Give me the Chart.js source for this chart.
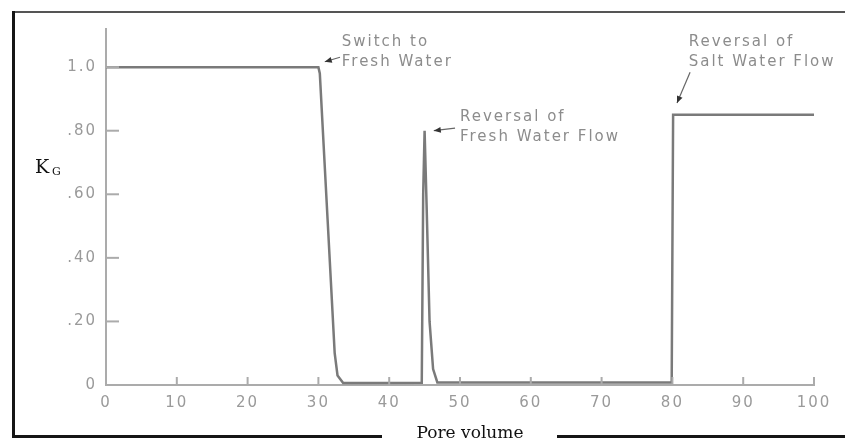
<!DOCTYPE html>
<html>
<head>
<meta charset="utf-8">
<script src="https://cdn.jsdelivr.net/npm/chart.js@4.4.1/dist/chart.umd.min.js"></script>
<style>
html, body { margin: 0; padding: 0; background: #fff; }
canvas { display: block; }
</style>
</head>
<body>
<canvas id="kgChart" width="845" height="439"></canvas>
<script>
// K_G against pore volume
const poreVolume = [0, 30, 30.2, 31.3, 32.3, 32.7, 33.5, 44.6, 44.8, 45.0, 45.3, 45.7, 46.2, 46.8, 79.9, 80.1, 100];
const kG = [1.0, 1.0, 0.98, 0.52, 0.1, 0.03, 0.006, 0.007, 0.6, 0.8, 0.55, 0.2, 0.05, 0.008, 0.008, 0.85, 0.85];

const xTicks = [0, 10, 20, 30, 40, 50, 60, 70, 80, 90, 100];
const yTicks = [0, 0.2, 0.4, 0.6, 0.8, 1.0];
const yTickLabels = ['0', '.20', '.40', '.60', '.80', '1.0'];

// annotation texts and the point (pore volume, K_G) they sit at
const noteLines = [['Switch to', 'Fresh Water'], ['Reversal of', 'Fresh Water Flow'], ['Reversal of', 'Salt Water Flow']];
const noteAt = [[33.3, 1.079], [50.0, 0.843], [82.3, 1.079]];
const arrowTail = [[33.05, 1.031], [49.3, 0.808], [82.5, 0.984]];
const arrowHead = [[30.9, 1.017], [46.3, 0.80], [80.65, 0.887]];

const lineGray = '#7a7a7a';
const axisGray = '#ababab';
const textGray = '#9a9a9a';

function arrow(ctx, x1, y1, x2, y2) {
    ctx.beginPath();
    ctx.moveTo(x1, y1);
    ctx.lineTo(x2, y2);
    ctx.stroke();
    const a = Math.atan2(y2 - y1, x2 - x1);
    ctx.beginPath();
    ctx.moveTo(x2, y2);
    ctx.lineTo(x2 - 7 * Math.cos(a) + 3 * Math.sin(a), y2 - 7 * Math.sin(a) - 3 * Math.cos(a));
    ctx.lineTo(x2 - 7 * Math.cos(a) - 3 * Math.sin(a), y2 - 7 * Math.sin(a) + 3 * Math.cos(a));
    ctx.closePath();
    ctx.fill();
}

const decorations = {
    id: 'decorations',
    beforeDraw(chart) {
        chart.ctx.letterSpacing = '2px';
    },
    afterDraw(chart) {
        const ctx = chart.ctx;
        const xs = chart.scales.x, ys = chart.scales.y;
        ctx.save();

        // inward tick marks
        ctx.strokeStyle = axisGray;
        ctx.lineWidth = 2;
        yTicks.forEach(v => {
            if (v === 0) return;
            const y = ys.getPixelForValue(v);
            ctx.beginPath();
            ctx.moveTo(xs.left, y);
            ctx.lineTo(xs.left + 13, y);
            ctx.stroke();
        });
        xTicks.forEach(v => {
            if (v === 0) return;
            const x = xs.getPixelForValue(v);
            ctx.beginPath();
            ctx.moveTo(x, ys.bottom);
            ctx.lineTo(x, ys.bottom - 8);
            ctx.stroke();
        });

        // annotations
        ctx.letterSpacing = '2px';
        ctx.font = '15px "DejaVu Sans"';
        ctx.fillStyle = '#8c8c8c';
        ctx.textBaseline = 'middle';
        ctx.textAlign = 'left';
        noteLines.forEach((lines, i) => {
            const x = xs.getPixelForValue(noteAt[i][0]);
            const y = ys.getPixelForValue(noteAt[i][1]);
            lines.forEach((t, j) => ctx.fillText(t, x, y + j * 20));
        });
        ctx.strokeStyle = '#666';
        ctx.fillStyle = '#333';
        ctx.lineWidth = 1.2;
        arrowTail.forEach((t, i) => {
            arrow(ctx, xs.getPixelForValue(t[0]), ys.getPixelForValue(t[1]),
                xs.getPixelForValue(arrowHead[i][0]), ys.getPixelForValue(arrowHead[i][1]));
        });

        // axis titles
        ctx.letterSpacing = '0px';
        ctx.fillStyle = '#111';
        ctx.textBaseline = 'alphabetic';
        ctx.font = '19px "DejaVu Serif"';
        ctx.fillText('K', 35, 173);
        ctx.font = '11px "DejaVu Serif"';
        ctx.fillText('G', 52, 175);
        ctx.font = '17px "DejaVu Serif"';
        ctx.textAlign = 'center';
        ctx.fillText('Pore volume', 470, 438);

        // frame round the figure
        ctx.strokeStyle = '#555';
        ctx.lineWidth = 2;
        ctx.beginPath();
        ctx.moveTo(13, 12);
        ctx.lineTo(845, 12);
        ctx.stroke();
        ctx.strokeStyle = '#151515';
        ctx.lineWidth = 3;
        ctx.beginPath();
        ctx.moveTo(13.5, 11);
        ctx.lineTo(13.5, 437);
        ctx.moveTo(12, 436.5);
        ctx.lineTo(382, 436.5);
        ctx.moveTo(557, 436.5);
        ctx.lineTo(845, 436.5);
        ctx.stroke();
        ctx.restore();
    }
};

new Chart(document.getElementById('kgChart'), {
    type: 'scatter',
    data: {
        datasets: [{
            data: poreVolume.map((x, i) => ({ x: x, y: kG[i] })),
            showLine: true,
            borderColor: lineGray,
            borderWidth: 2.5,
            pointRadius: 0,
            tension: 0
        }]
    },
    options: {
        responsive: false,
        animation: false,
        layout: { padding: { top: 29, right: 31, left: 0, bottom: 0 } },
        plugins: { legend: { display: false }, tooltip: { enabled: false } },
        scales: {
            x: {
                type: 'linear',
                min: 0,
                max: 100,
                grid: { drawOnChartArea: false, drawTicks: false },
                border: { display: true, color: axisGray, width: 2 },
                afterBuildTicks: s => { s.ticks = xTicks.map(v => ({ value: v })); },
                afterFit: s => { s.height = 54; },
                ticks: {
                    padding: 9,
                    color: textGray,
                    font: { family: 'DejaVu Sans', size: 15 },
                    maxRotation: 0,
                    callback: v => String(v)
                }
            },
            y: {
                type: 'linear',
                min: 0,
                max: 1.12,
                grid: { drawOnChartArea: false, drawTicks: false },
                border: { display: true, color: axisGray, width: 2 },
                afterBuildTicks: s => { s.ticks = yTicks.map(v => ({ value: v })); },
                afterFit: s => { s.width = 106; },
                ticks: {
                    padding: 9,
                    color: textGray,
                    font: { family: 'DejaVu Sans', size: 15 },
                    callback: v => yTickLabels[yTicks.indexOf(v)]
                }
            }
        }
    },
    plugins: [decorations]
});
</script>
</body>
</html>
